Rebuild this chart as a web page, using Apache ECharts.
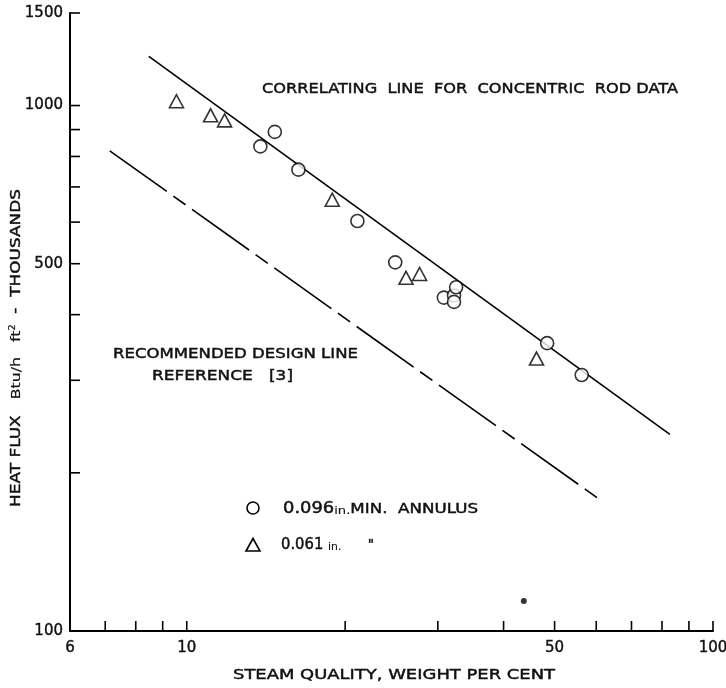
<!DOCTYPE html>
<html><head><meta charset="utf-8">
<script src="https://cdn.jsdelivr.net/npm/echarts@6/dist/echarts.min.js"></script>
<style>html,body{margin:0;padding:0;background:#fff}#c{width:726px;height:688px}</style>
</head><body><div id="c"></div>
<script>
// ---- data (steam quality %, heat flux thousands Btu/h ft2) ----
const circleData = [[13.8,836],[14.7,891],[16.3,755],[21.1,603],[24.9,503],[30.8,431],[32.2,435],[32.2,423],[32.5,451],[48.4,353],[56.3,307]];
const triangleData = [[9.56,1019],[11.1,958],[11.8,937],[18.9,662],[26.1,470],[27.7,478],[46.2,330]];
const strayDot = [[43.7,114]];
const correlatingLine = [[8.47,1240],[82.8,236.6]];
const designLine = [[7.14,820],[60.96,177.8]];
const xTicks = [7,8,9,10,20,30,40,50,60,70,80,90,100];
const yTicks = [200,300,400,500,600,700,800,900,1000,1500];
const xTickLabels = ['6','10','50','100'];
const yTickLabels = ['100','500','1000','1500'];

const FONT = '"DejaVu Sans", sans-serif';
const cv = document.createElement('canvas'); const ctx = cv.getContext('2d');
function measure(t, size, weight){ ctx.font = (weight||'normal')+' '+size+'px '+FONT; return ctx.measureText(t).width; }
function makeText(segs, cx, cy, targetW, rotation){
  let total = 0; const rich = {}; let text = '';
  segs.forEach((s,i)=>{
    total += measure(s.t, s.size, s.weight);
    rich['s'+i] = {fontSize:s.size, fontWeight:s.weight||'normal', fontFamily:FONT, fill:'#111', stroke:'#111', lineWidth:s.sw==null?0.45:s.sw, verticalAlign:s.va||'bottom'};
    text += '{s'+i+'|'+s.t+'}';
  });
  return {type:'text', x:cx, y:cy, rotation:rotation||0, scaleX: targetW/total, z:10,
    style:{text:text, rich:rich, align:'center', verticalAlign:'middle', textAlign:'center', textVerticalAlign:'middle', fill:'#111'}};
}
const graphics = [
  makeText([{t:'CORRELATING  LINE  FOR  CONCENTRIC  ROD DATA',size:14}], 470, 89, 416),
  makeText([{t:'RECOMMENDED DESIGN LINE',size:14}], 235.5, 354, 245),
  makeText([{t:'REFERENCE   [3]',size:14}], 222.5, 376, 141),
  makeText([{t:'STEAM QUALITY, WEIGHT PER CENT',size:14}], 394, 675, 322),
  makeText([{t:'HEAT FLUX   ',size:14},{t:'Btu/h   ft',size:13,sw:0.2},{t:'2',size:8,va:'top',sw:0.2},{t:'  -  THOUSANDS',size:14}], 16, 348, 318, Math.PI/2),
  makeText([{t:'0.096',size:15},{t:'in.',size:11,sw:0.1},{t:'MIN.  ANNULUS',size:14}], 380.5, 509, 195),
  makeText([{t:'0.061 ',size:15},{t:'in.',size:11,sw:0.1},{t:'      "',size:14}], 327.5, 545, 93),
  {type:'circle', x:253, y:508, shape:{cx:0,cy:0,r:6}, style:{fill:'#fff', stroke:'#000', lineWidth:1.6}, z:10},
  {type:'polygon', x:253, y:545, shape:{points:[[0,-6.5],[7,6],[-7,6]]}, style:{fill:'#fff', stroke:'#000', lineWidth:1.6}, z:10}
];

function tickSeries(data, horizontal){
  return {type:'custom', silent:true, clip:false, z:5, encode:{x:0,y:1}, data:data,
    renderItem:(p, api)=>{ const pt = api.coord([api.value(0), api.value(1)]);
      return {type:'line', shape: horizontal ? {x1:pt[0], y1:pt[1], x2:pt[0]+10, y2:pt[1]} : {x1:pt[0], y1:pt[1], x2:pt[0], y2:pt[1]-10},
        style:{stroke:'#000', lineWidth:1.6}}; }};
}
function labelSeries(data, isX){
  return {type:'custom', silent:true, clip:false, z:5, encode:{x:0,y:1}, data:data,
    renderItem:(p, api)=>{ const pt = api.coord([api.value(0), api.value(1)]); const s = String(api.value(isX?0:1));
      return {type:'text', x: isX ? pt[0] : pt[0]-7, y: isX ? pt[1]+17 : pt[1],
        style:{text:s, font:'15px '+FONT, fill:'#111', stroke:'#111', lineWidth:0.4, align: isX?'center':'right', verticalAlign:'middle', textAlign: isX?'center':'right', textVerticalAlign:'middle'}}; }};
}

const chart = echarts.init(document.getElementById('c'), null, {renderer:'canvas'});
chart.setOption({
  animation:false,
  backgroundColor:'#fff',
  grid:{left:70, right:13, top:13, bottom:57, containLabel:false},
  xAxis:{type:'log', logBase:10, min:6, max:100, axisLine:{show:true, onZero:false, lineStyle:{color:'#000', width:2}}, axisTick:{show:false}, axisLabel:{show:false}, splitLine:{show:false}},
  yAxis:{type:'log', logBase:10, min:100, max:1500, axisLine:{show:true, onZero:false, lineStyle:{color:'#000', width:2}}, axisTick:{show:false}, axisLabel:{show:false}, splitLine:{show:false}},
  graphic: graphics,
  series:[
    {type:'line', data:correlatingLine, symbol:'none', z:2, lineStyle:{color:'#000', width:1.6}},
    {type:'line', data:designLine, symbol:'none', z:2, lineStyle:{color:'#000', width:1.6, type:[70,8,15,8]}},
    {type:'scatter', data:circleData, symbol:'circle', symbolSize:13, z:4, itemStyle:{color:'#fff', borderColor:'#000', borderWidth:1.6}},
    {type:'scatter', data:triangleData, symbol:'triangle', symbolSize:[14,13], z:4, itemStyle:{color:'#fff', borderColor:'#000', borderWidth:1.6}},
    {type:'scatter', data:strayDot, symbol:'circle', symbolSize:6, z:4, itemStyle:{color:'#000'}},
    tickSeries(xTicks.map(v=>[v,100]), false),
    tickSeries(yTicks.map(v=>[6,v]), true),
    labelSeries(xTickLabels.map(s=>[Number(s),100]), true),
    labelSeries(yTickLabels.map(s=>[6,Number(s)]), false)
  ]
});
</script></body></html>
